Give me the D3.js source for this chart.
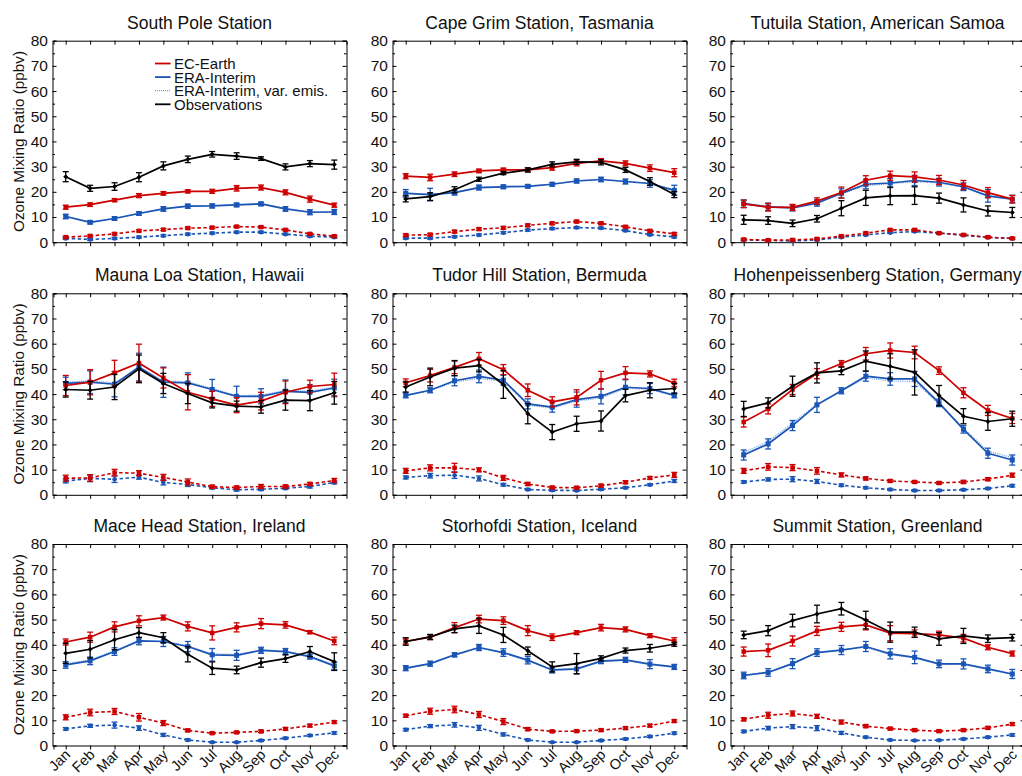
<!DOCTYPE html>
<html>
<head>
<meta charset="utf-8">
<script src="https://cdn.jsdelivr.net/npm/d3@7"></script>
<style>
  html, body { margin: 0; padding: 0; background: #fff; }
  svg { display: block; font-family: "Liberation Sans", Arial, Helvetica, sans-serif; }
</style>
</head>
<body>
<svg id="chart" width="1022" height="776"></svg>
<script>
const months = ["Jan","Feb","Mar","Apr","May","Jun","Jul","Aug","Sep","Oct","Nov","Dec"];
const stations = ["South Pole Station","Cape Grim Station, Tasmania","Tutuila Station, American Samoa",
  "Mauna Loa Station, Hawaii","Tudor Hill Station, Bermuda","Hohenpeissenberg Station, Germany",
  "Mace Head Station, Ireland","Storhofdi Station, Iceland","Summit Station, Greenland"];
const yTicks = [0,10,20,30,40,50,60,70,80];
const yMinorTicks = [5,15,25,35,45,55,65,75];
const legendLabels = ["EC-Earth","ERA-Interim","ERA-Interim, var. emis.","Observations"];

const ecEarth = [
  [13.9,14.9,16.7,18.5,19.4,20.2,20.2,21.4,21.7,19.8,17.1,14.7],
  [26.2,25.7,27.0,28.3,28.7,28.7,29.6,31.3,32.3,31.3,29.4,27.6],
  [15.2,13.9,13.8,16.3,19.7,24.6,26.4,25.9,24.7,22.7,19.7,17.1],
  [43.4,44.7,48.4,52.3,46.4,40.7,38.1,35.6,37.2,40.7,43.0,43.8],
  [44.5,47.3,50.6,54.0,49.7,41.5,36.9,38.7,45.5,48.4,48.0,44.4],
  [28.9,34.1,41.8,48.1,52.1,56.0,57.3,56.5,49.3,40.5,33.5,30.3],
  [41.1,43.0,47.1,49.5,50.8,47.3,44.7,46.9,48.4,47.9,45.0,41.5],
  [41.3,43.0,46.8,50.2,49.6,45.6,43.0,44.8,46.8,46.1,43.6,41.5],
  [37.3,37.8,41.5,45.5,47.1,47.9,44.6,44.4,43.9,42.6,39.0,36.5]
];
const ecEarthErr = [
  [0.8,0.7,0.6,0.8,0.7,0.6,0.8,1.1,1.0,1.0,1.2,0.8],
  [1.0,1.3,0.9,0.7,0.7,0.8,1.0,1.0,0.9,1.0,1.3,1.6],
  [1.5,1.5,1.2,1.3,2.2,1.8,1.8,2.0,1.8,1.8,2.0,1.5],
  [4.0,5.0,5.0,7.5,4.0,7.0,3.0,3.0,3.5,4.5,2.5,4.5],
  [1.5,2.5,2.5,2.5,2.0,2.5,2.0,3.0,3.5,2.5,1.2,1.5],
  [2.0,2.0,2.0,2.0,1.2,2.5,3.0,2.5,1.5,2.0,2.0,2.0],
  [1.2,2.0,2.0,2.0,1.0,1.8,2.8,1.8,2.0,1.3,0.6,1.5],
  [1.0,1.0,2.0,1.5,1.5,2.0,1.3,0.8,1.3,1.0,0.8,1.3],
  [1.8,2.5,2.0,1.8,1.8,2.0,3.0,1.5,1.5,1.5,1.0,1.0]
];
const eraInterim = [
  [10.2,7.9,9.4,11.4,13.2,14.3,14.4,14.8,15.2,13.2,11.9,12.0],
  [19.4,18.9,19.7,21.7,22.0,22.2,23.0,24.3,24.9,24.1,23.3,20.6],
  [15.3,14.0,13.6,15.5,19.4,23.0,23.5,24.5,23.8,22.0,18.4,17.1],
  [44.2,44.7,43.9,50.7,44.7,44.4,41.8,39.1,39.1,41.1,40.7,42.4],
  [39.5,41.5,45.3,47.0,45.5,36.1,34.8,37.8,39.1,42.7,42.2,39.5],
  [15.8,20.2,27.5,35.7,41.3,47.1,46.0,46.0,36.5,26.0,16.5,13.8],
  [32.0,33.6,37.3,41.5,41.3,39.3,36.0,35.8,37.8,37.3,35.3,31.6],
  [30.7,32.5,36.0,38.9,36.9,33.9,30.0,30.4,33.5,34.0,32.3,31.2],
  [27.8,29.0,32.5,36.9,37.9,39.3,36.4,35.0,32.4,32.4,30.4,28.4]
];
const eraInterimErr = [
  [0.9,0.6,0.7,0.7,0.9,0.8,0.8,0.7,0.7,0.9,1.0,1.0],
  [1.5,2.5,1.0,1.0,0.7,0.6,0.7,0.8,0.9,1.0,1.5,2.0],
  [1.5,1.5,1.2,1.2,1.8,1.8,1.8,2.0,1.5,1.5,2.5,1.5],
  [2.5,4.5,5.0,5.5,6.0,4.0,4.0,4.0,3.0,4.5,3.0,3.5],
  [1.0,1.0,2.0,2.5,2.0,2.0,2.0,3.0,3.0,3.0,2.0,1.0],
  [2.0,2.0,2.0,3.0,1.2,2.0,2.5,3.0,1.5,1.5,2.0,2.0],
  [1.3,1.5,1.5,1.5,2.0,2.0,2.5,2.0,1.2,1.2,1.0,1.5],
  [1.0,1.0,0.8,1.2,1.5,1.5,1.2,2.0,1.0,1.0,1.8,1.0],
  [1.3,1.5,2.0,1.5,1.8,2.0,2.0,2.5,1.5,2.0,1.5,1.8]
];
const eraVarEmis = [
  [10.4,8.0,9.5,11.5,13.4,14.4,14.6,14.9,15.4,13.4,12.1,12.2],
  [19.6,19.0,19.8,21.9,22.1,22.3,23.1,24.4,25.0,24.2,23.4,20.8],
  [15.5,14.2,13.8,15.7,19.2,22.4,23.2,24.0,23.5,21.8,18.2,17.0],
  [44.8,45.3,44.4,50.2,45.2,44.9,42.2,39.4,39.5,41.5,41.1,42.8],
  [39.3,41.3,44.8,46.2,45.0,35.6,34.4,37.2,38.4,42.3,41.8,39.3],
  [16.8,21.2,28.5,36.0,41.3,46.4,45.2,45.0,36.0,26.5,17.3,14.8],
  [32.5,34.0,37.6,41.7,41.4,39.6,36.4,36.2,38.0,37.5,35.5,32.0],
  [30.5,32.3,35.8,38.7,36.7,33.7,29.8,30.2,33.3,33.8,32.1,31.0],
  [28.0,29.2,32.7,37.0,38.0,39.0,36.0,34.8,32.2,32.2,30.2,28.2]
];
const observations = [
  [26.0,21.4,22.1,25.8,30.3,32.9,34.9,34.2,33.2,29.9,31.2,30.8],
  [17.2,18.1,20.8,25.0,27.4,28.7,30.9,31.9,31.7,28.7,24.1,18.9],
  [8.9,8.6,7.5,9.3,13.5,17.6,18.4,18.5,17.5,14.8,12.4,11.8],
  [41.8,41.5,42.8,50.0,44.2,40.2,36.5,35.2,34.9,37.6,37.4,40.5],
  [42.8,46.8,50.3,51.3,43.8,32.2,24.9,28.2,29.3,39.4,41.5,42.2],
  [34.1,36.5,43.1,48.4,49.2,53.1,51.0,48.6,39.4,31.2,29.1,30.2],
  [36.6,38.2,42.0,44.8,42.8,36.2,30.7,30.0,32.9,34.5,37.3,33.3],
  [41.3,43.1,46.3,47.5,43.9,37.6,31.2,32.5,34.6,37.7,38.6,40.2],
  [43.9,45.6,49.6,52.2,54.3,49.8,45.0,45.0,42.3,43.5,42.4,42.8]
];
const observationsErr = [
  [2.0,1.2,1.5,1.8,1.6,1.3,1.1,1.3,0.7,1.2,1.2,1.8],
  [1.2,1.5,1.2,0.8,0.6,0.8,1.0,1.0,1.0,1.0,1.5,1.2],
  [1.8,1.5,1.3,1.3,3.0,3.0,3.5,3.5,2.0,2.8,2.0,2.0],
  [3.0,3.5,5.0,5.5,4.0,4.0,2.0,2.0,2.5,4.0,4.0,4.5],
  [2.0,3.5,3.0,2.5,5.5,4.0,3.0,3.0,4.0,2.5,3.0,2.0],
  [3.0,2.0,4.0,4.0,1.5,4.0,5.0,9.0,4.0,3.0,3.5,3.0],
  [4.0,3.5,4.0,2.0,2.0,3.0,2.5,1.5,1.8,1.5,2.0,3.5],
  [1.5,1.0,1.5,3.0,3.0,1.5,2.0,4.0,1.0,1.0,1.5,0.8],
  [1.5,2.0,2.5,3.5,2.5,3.5,4.0,2.0,2.5,3.0,1.5,1.3]
];
const ecEarthLow = [
  [2.0,2.5,3.3,4.5,5.0,5.6,5.8,6.2,6.0,4.9,3.3,2.4],
  [2.8,3.0,4.2,5.2,5.7,6.7,7.5,8.2,7.5,6.1,4.5,3.3],
  [1.1,0.8,0.9,1.3,2.4,3.6,4.9,4.9,3.6,2.9,2.0,1.5],
  [6.6,6.7,8.8,8.6,6.9,5.1,3.2,2.9,3.3,3.3,4.3,5.7],
  [9.5,10.7,10.7,9.9,6.7,4.3,2.9,2.8,3.6,5.0,6.7,7.9],
  [9.5,11.1,10.8,9.5,7.9,6.5,5.5,5.1,4.7,5.1,6.2,7.8],
  [11.2,13.1,13.5,11.2,8.9,6.0,4.9,5.2,5.6,6.6,7.9,9.3],
  [11.8,13.6,14.3,12.3,9.5,6.5,5.6,5.7,6.1,6.9,7.9,9.7],
  [10.4,12.0,12.7,11.6,9.3,7.7,6.7,6.1,5.7,6.1,7.0,8.5]
];
const ecEarthLowErr = [
  [0.4,0.4,0.4,0.4,0.4,0.4,0.4,0.4,0.4,0.4,0.4,0.4],
  [0.5,0.5,0.5,0.5,0.5,0.5,0.5,0.5,0.5,0.5,0.5,0.5],
  [0.4,0.4,0.4,0.4,0.4,0.4,0.4,0.4,0.4,0.4,0.4,0.4],
  [1.2,1.3,1.3,1.0,1.2,1.2,0.6,0.6,0.8,0.6,0.6,0.8],
  [1.0,1.2,1.8,0.8,1.0,0.6,0.5,0.5,0.6,0.6,0.5,1.0],
  [1.0,1.3,1.2,1.3,0.8,0.6,0.5,0.5,0.5,0.6,0.6,0.8],
  [1.0,1.3,1.2,1.5,1.0,0.5,0.4,0.4,0.5,0.5,0.5,0.5],
  [0.6,1.2,1.3,1.2,1.2,0.6,0.4,0.4,0.5,0.5,0.5,0.5],
  [0.6,1.2,1.0,0.8,0.8,0.6,0.5,0.5,0.5,0.5,0.5,0.5]
];
const eraLow = [
  [1.5,1.1,1.5,2.0,2.6,3.2,3.6,4.0,4.0,3.2,2.4,2.0],
  [1.6,1.6,2.2,2.9,3.8,4.8,5.4,5.8,5.6,4.6,3.0,2.1],
  [0.9,0.7,0.5,0.9,2.0,2.9,3.8,4.2,3.6,2.8,1.9,1.5],
  [5.5,6.5,6.2,7.0,4.9,4.1,2.8,2.0,2.2,2.6,3.3,4.9],
  [6.9,7.6,7.8,6.5,4.0,2.1,1.8,1.7,2.2,2.8,4.0,5.5],
  [5.1,6.1,6.2,5.3,3.8,2.8,2.1,1.7,1.7,2.0,2.5,3.6],
  [6.6,7.8,8.1,6.9,4.2,2.2,1.3,1.3,2.0,2.9,4.0,5.0],
  [6.3,7.7,8.2,7.0,4.4,2.2,1.3,1.3,2.0,2.6,3.6,4.9],
  [5.6,6.9,7.5,6.9,5.0,3.3,2.2,2.0,2.1,2.6,3.3,4.2]
];
const eraLowErr = [
  [0.4,0.4,0.4,0.4,0.4,0.4,0.4,0.4,0.4,0.4,0.4,0.4],
  [0.4,0.4,0.4,0.4,0.4,0.4,0.4,0.4,0.4,0.4,0.4,0.4],
  [0.3,0.3,0.3,0.3,0.3,0.3,0.3,0.3,0.3,0.3,0.3,0.3],
  [0.8,1.3,1.3,0.8,1.0,0.8,0.5,0.5,0.5,0.5,0.6,0.6],
  [0.6,0.9,1.3,1.0,0.5,0.4,0.4,0.4,0.4,0.4,0.4,0.6],
  [0.5,0.6,1.0,0.8,0.5,0.4,0.4,0.4,0.4,0.4,0.4,0.5],
  [0.5,0.6,1.2,0.9,0.6,0.4,0.3,0.3,0.4,0.4,0.4,0.5],
  [0.5,0.6,0.9,1.0,0.6,0.4,0.3,0.3,0.4,0.4,0.4,0.5],
  [0.5,0.7,0.8,1.0,0.6,0.4,0.3,0.3,0.3,0.4,0.4,0.5]
];

const RED = "#cc0000", BLUE = "#1a55b5", LBLUE = "#6d9be0", BLACK = "#000";

const svg = d3.select("#chart");
const colLefts = [52.5, 392.5, 730.5];
const rowTops = [40.7, 293.3, 544];
const PW = 294, PH = 201.5;

function drawSeries(g, x, y, vals, errs, opts) {
  const line = d3.line().x((d, i) => x(i + 1)).y(d => y(d));
  g.append("path").datum(vals)
    .attr("fill", "none").attr("stroke", opts.color)
    .attr("stroke-width", opts.width)
    .attr("stroke-dasharray", opts.dash || null)
    .attr("d", line);
  if (errs) {
    const eb = g.append("g").attr("stroke", opts.color).attr("stroke-width", opts.ebWidth || 1.3);
    vals.forEach((v, i) => {
      const e = errs[i];
      const cx = x(i + 1);
      eb.append("line").attr("x1", cx).attr("x2", cx).attr("y1", y(v - e)).attr("y2", y(v + e));
      eb.append("line").attr("x1", cx - 3).attr("x2", cx + 3).attr("y1", y(v - e)).attr("y2", y(v - e));
      eb.append("line").attr("x1", cx - 3).attr("x2", cx + 3).attr("y1", y(v + e)).attr("y2", y(v + e));
    });
  }
  const mk = g.append("g").attr("fill", opts.color);
  vals.forEach((v, i) => {
    const cx = x(i + 1), cy = y(v);
    const s = opts.size;
    if (opts.marker === "square") {
      mk.append("rect").attr("x", cx - s / 2).attr("y", cy - s / 2).attr("width", s).attr("height", s);
    } else if (opts.marker === "circle") {
      mk.append("circle").attr("cx", cx).attr("cy", cy).attr("r", s / 2);
    } else if (opts.marker === "diamond") {
      mk.append("path").attr("d", `M${cx},${cy - s / 2}L${cx + s / 2},${cy}L${cx},${cy + s / 2}L${cx - s / 2},${cy}Z`);
    }
  });
}

stations.forEach((name, p) => {
  const col = p % 3, row = Math.floor(p / 3);
  const left = colLefts[col], top = rowTops[row];
  const x = d3.scaleLinear().domain([0.5, 12.5]).range([left + 1, left + PW]);
  const y = d3.scaleLinear().domain([0, 80]).range([top + PH, top]);
  const g = svg.append("g");

  // title
  g.append("text").attr("x", left + PW / 2).attr("y", top - 12)
    .attr("text-anchor", "middle").attr("font-size", "17.5px").attr("fill", "#111")
    .text(name);

  // axes
  const axL = g.append("g").attr("transform", `translate(${left},0)`)
    .call(d3.axisLeft(y).tickValues(yTicks).tickSize(-4).tickPadding(4.5).tickFormat(d3.format("d")));
  axL.selectAll("text").attr("font-size", "15.5px").attr("fill", "#111").attr("font-family", "Liberation Sans, Arial, sans-serif");
  g.append("g").attr("transform", `translate(${left},0)`)
    .call(d3.axisLeft(y).tickValues(yMinorTicks).tickSize(-2.5).tickFormat(""))
    .select(".domain").remove();
  g.append("g").attr("transform", `translate(${left + PW},0)`)
    .call(d3.axisRight(y).tickValues(yTicks).tickSize(-4).tickFormat(""));
  g.append("g").attr("transform", `translate(${left + PW},0)`)
    .call(d3.axisRight(y).tickValues(yMinorTicks).tickSize(-2.5).tickFormat(""))
    .select(".domain").remove();
  g.append("g").attr("transform", `translate(0,${top})`)
    .call(d3.axisTop(x).tickValues(d3.range(1, 13)).tickSize(-4).tickFormat(""));
  const axB = g.append("g").attr("transform", `translate(0,${top + PH})`)
    .call(d3.axisBottom(x).tickValues(d3.range(1, 13)).tickSize(4).tickFormat(i => months[i - 1]));
  if (row === 2) {
    axB.selectAll("text")
      .attr("font-size", "14.5px").attr("fill", "#111")
      .attr("font-family", "Liberation Sans, Arial, sans-serif")
      .attr("text-anchor", "end")
      .attr("dy", null).attr("y", 0)
      .attr("transform", "translate(5,10) rotate(-45)");
  } else {
    axB.selectAll("text").remove();
  }
  g.selectAll(".domain").attr("stroke", "#000").attr("stroke-width", 1);
  g.selectAll(".tick line").attr("stroke", "#000").attr("stroke-width", 1);

  // y-axis title
  if (col === 0) {
    g.append("text").attr("transform", `translate(24,${top + PH / 2}) rotate(-90)`)
      .attr("text-anchor", "middle").attr("font-size", "15.3px").attr("fill", "#111")
      .text("Ozone Mixing Ratio (ppbv)");
  }

  const plot = g.append("g");
  drawSeries(plot, x, y, eraLow[p], eraLowErr[p], {color: BLUE, width: 1.6, dash: "3.5,2.5", marker: "circle", size: 4.5});
  drawSeries(plot, x, y, ecEarthLow[p], ecEarthLowErr[p], {color: RED, width: 1.6, dash: "3.5,2.5", marker: "square", size: 4.5});
  drawSeries(plot, x, y, eraVarEmis[p], null, {color: LBLUE, width: 1.2, dash: "1,1.2", marker: "diamond", size: 5});
  drawSeries(plot, x, y, eraInterim[p], eraInterimErr[p], {color: BLUE, width: 1.7, marker: "square", size: 5});
  drawSeries(plot, x, y, ecEarth[p], ecEarthErr[p], {color: RED, width: 1.7, marker: "square", size: 4.5});
  drawSeries(plot, x, y, observations[p], observationsErr[p], {color: BLACK, width: 1.7, marker: "diamond", size: 5});

  if (p === 0) {
    const colors = [RED, BLUE, LBLUE, BLACK];
    const lg = g.append("g");
    legendLabels.forEach((lab, k) => {
      const ly = 63.5 + k * 13.6;
      lg.append("line").attr("x1", 155).attr("x2", 170.5).attr("y1", ly).attr("y2", ly)
        .attr("stroke", colors[k]).attr("stroke-width", k === 2 ? 1.2 : 1.8)
        .attr("stroke-dasharray", k === 2 ? "1,1" : null);
      lg.append("text").attr("x", 174).attr("y", ly).attr("dy", "0.36em")
        .attr("font-size", "15px").attr("fill", "#111").text(lab);
    });
  }
});
</script>
</body>
</html>
